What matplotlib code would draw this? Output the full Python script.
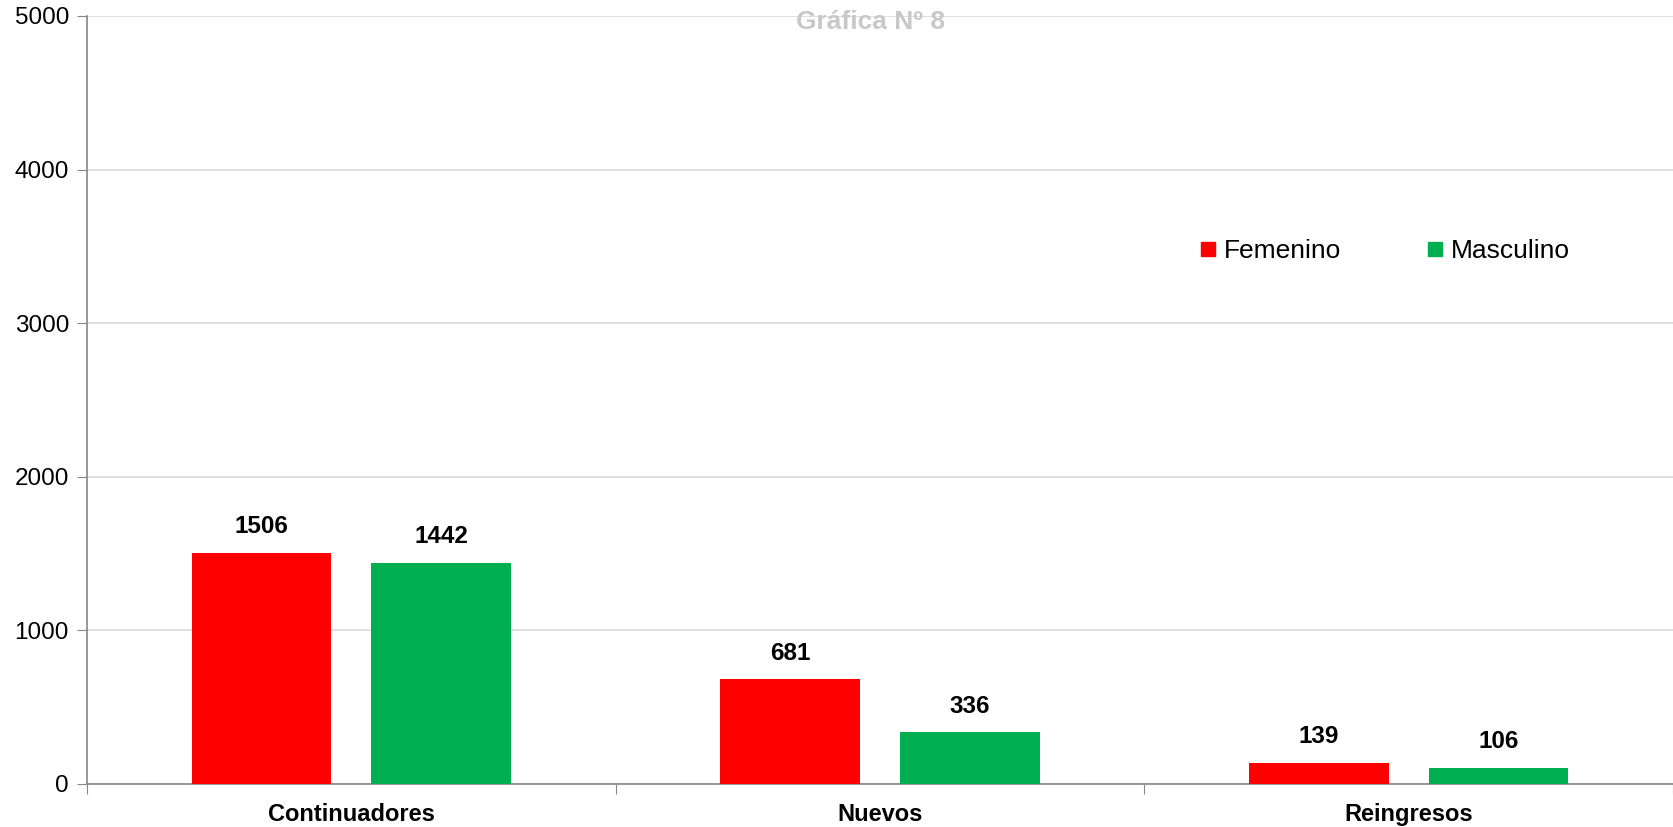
import numpy as np
import matplotlib.pyplot as plt
from matplotlib.lines import Line2D

plt.rcParams['font.family'] = ['Liberation Sans', 'DejaVu Sans']

# data
categorias = ['Continuadores', 'Nuevos', 'Reingresos']
femenino = [1506, 681, 139]
masculino = [1442, 336, 106]
series = ['Femenino', 'Masculino']
colores = ['#ff0000', '#00b050']

fig = plt.figure(figsize=(16.73, 8.27), dpi=100)
ax = fig.add_axes([87/1673, 1 - 784/827, 1 - 87/1673, (784 - 16)/827])

x = np.arange(len(categorias))
w = 0.264
off = 0.17
b1 = ax.bar(x - off, femenino, w, color=colores[0], zorder=3)
b2 = ax.bar(x + off, masculino, w, color=colores[1], zorder=3)

for bars in (b1, b2):
    for r in bars:
        ax.annotate(f'{int(r.get_height())}', (r.get_x() + r.get_width()/2, r.get_height()),
                    xytext=(0, 19), textcoords='offset points', ha='center', va='center',
                    fontsize=17.5, fontweight='bold')

ax.set_xlim(-0.5, len(categorias) - 0.5)
ax.set_ylim(0, 5000)
ax.set_yticks(np.arange(0, 5001, 1000))
ax.yaxis.grid(True, color='#d9d9d9', linewidth=1.2, zorder=0)
ax.set_axisbelow(True)

# category labels between boundary ticks
ax.set_xticks(np.arange(-0.5, len(categorias), 1.0))
ax.set_xticklabels([])
ax.set_xticks(x, minor=True)
ax.set_xticklabels(categorias, minor=True, fontsize=17, fontweight='bold')
ax.tick_params(axis='x', which='minor', length=0, pad=14)
ax.tick_params(axis='x', which='major', length=7, color='#868686', direction='out')
ax.tick_params(axis='y', labelsize=17.5, length=7, color='#868686', pad=6)

for s in ('top', 'right'):
    ax.spines[s].set_visible(False)
for s in ('left', 'bottom'):
    ax.spines[s].set_color('#868686')
    ax.spines[s].set_linewidth(1.2)

handles = [Line2D([], [], marker='s', linestyle='none', markersize=10, color=c) for c in colores]
fig.legend(handles, series, loc='center left', bbox_to_anchor=(1188/1673, 1 - 251/827),
           ncol=2, frameon=False, fontsize=19, handlelength=0.55, handletextpad=0.3,
           columnspacing=3.3, borderpad=0)

fig.text(871/1673, 1 - 22/827, 'Gráfica Nº 8', ha='center', va='center',
         fontsize=19, fontweight='bold', color='#c8c8c8')

plt.savefig('out.png', dpi=100)
